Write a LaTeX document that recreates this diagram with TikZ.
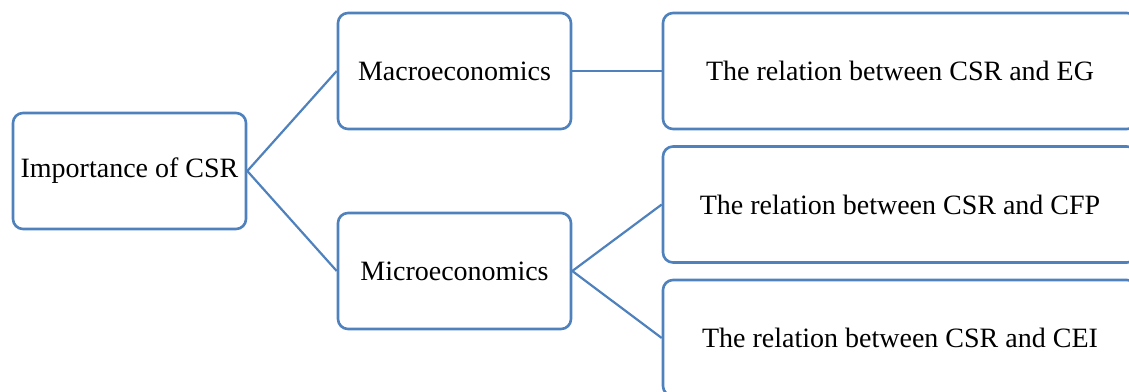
\documentclass[tikz,border=0pt]{standalone}
\usepackage{fontspec}
\setmainfont{Liberation Serif}
\definecolor{boxblue}{HTML}{4F81BD}
\begin{document}
\begin{tikzpicture}[x=0.5pt,y=-0.5pt,
  box/.style={draw=boxblue,line width=1.3pt,rounded corners=5pt,fill=white,
    minimum width=116.5pt,minimum height=58pt,inner sep=0pt,
    font=\fontsize{14}{16}\selectfont},
  wide/.style={box,minimum width=237pt},
  link/.style={draw=boxblue,line width=1.1pt}]
\clip (0,0) rectangle (1129,391);
\useasboundingbox (0,0) rectangle (1129,391);
\node[box] (imp) at (129.5,171) {Importance of CSR};
\node[box] (mac) at (454.5,71) {Macroeconomics};
\node[box] (mic) at (454.5,271) {Microeconomics};
\node[wide] (eg) at (900,71) {The relation between CSR and EG};
\node[wide] (cfp) at (900,204.5) {The relation between CSR and CFP};
\node[wide] (cei) at (900,338) {The relation between CSR and CEI};
\draw[link] (imp.east) -- (mac.west);
\draw[link] (imp.east) -- (mic.west);
\draw[link] (mac.east) -- (eg.west);
\draw[link] (mic.east) -- (cfp.west);
\draw[link] (mic.east) -- (cei.west);
\end{tikzpicture}
\end{document}
